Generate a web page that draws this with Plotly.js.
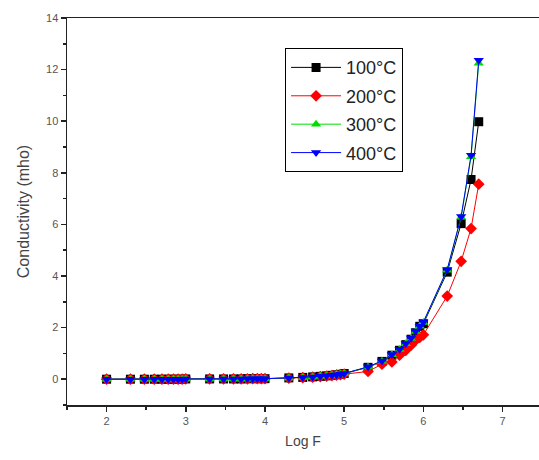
<!DOCTYPE html>
<html>
<head>
<meta charset="utf-8">
<script src="https://cdn.plot.ly/plotly-3.0.1.min.js"></script>
<style>html,body{margin:0;padding:0;background:#fff;}#chart{width:539px;height:460px;}</style>
</head>
<body>
<div id="chart"></div>
<script>
var logF = [2, 2.301, 2.477, 2.602, 2.699, 2.778, 2.845, 2.903, 2.954, 3,
            3.301, 3.477, 3.602, 3.699, 3.778, 3.845, 3.903, 3.954, 4,
            4.301, 4.477, 4.602, 4.699, 4.778, 4.845, 4.903, 4.954, 5,
            5.301, 5.477, 5.602, 5.699, 5.778, 5.845, 5.903, 5.954, 6,
            6.301, 6.477, 6.602, 6.699];

var c100 = [0, 0, 0, 0, 0, 0, 0, 0, 0, 0.01,
            0.01, 0.01, 0.01, 0.01, 0.02, 0.02, 0.02, 0.02, 0.02,
            0.05, 0.07, 0.09, 0.11, 0.13, 0.15, 0.17, 0.19, 0.22,
            0.46, 0.69, 0.93, 1.12, 1.34, 1.55, 1.8, 2.05, 2.15,
            4.15, 6.03, 7.74, 9.98];
var c200 = [0, 0, 0, 0, 0, 0, 0, 0, 0, 0.01,
            0.01, 0.01, 0.01, 0.01, 0.01, 0.02, 0.02, 0.02, 0.02,
            0.04, 0.06, 0.08, 0.1, 0.12, 0.14, 0.16, 0.18, 0.2,
            0.3, 0.58, 0.67, 0.93, 1.12, 1.32, 1.51, 1.62, 1.72,
            3.22, 4.57, 5.84, 7.56];
var c300 = [0, 0, 0, 0, 0, 0, 0, 0, 0, 0.01,
            0.01, 0.01, 0.01, 0.01, 0.02, 0.02, 0.02, 0.02, 0.02,
            0.05, 0.07, 0.09, 0.11, 0.13, 0.15, 0.17, 0.19, 0.22,
            0.47, 0.7, 0.95, 1.15, 1.37, 1.58, 1.85, 2.05, 2.2,
            4.22, 6.28, 8.62, 12.25];
var c400 = [0, 0, 0, 0, 0, 0, 0, 0, 0, 0.01,
            0.01, 0.01, 0.01, 0.01, 0.02, 0.02, 0.02, 0.02, 0.02,
            0.05, 0.07, 0.09, 0.11, 0.13, 0.15, 0.17, 0.19, 0.22,
            0.48, 0.71, 0.96, 1.16, 1.38, 1.6, 1.87, 2.05, 2.22,
            4.25, 6.31, 8.68, 12.36];

var seriesNames = ['100\u00b0C', '200\u00b0C', '300\u00b0C', '400\u00b0C'];
var seriesData = [c100, c200, c300, c400];
var colors = ['#000000', '#ff0000', '#00dd00', '#0000ff'];
var symbols = ['square', 'diamond', 'triangle-up', 'triangle-down'];

var traces = seriesData.map(function (ys, i) {
  return {
    x: logF, y: ys, name: seriesNames[i], type: 'scatter', mode: 'lines+markers',
    legendgroup: 'g' + i,
    line: {color: colors[i], width: 1},
    marker: {color: colors[i], symbol: symbols[i], size: 9, line: {width: 0}}
  };
});

var layout = {
  width: 539, height: 460,
  margin: {l: 67, r: 0, t: 18, b: 55},
  paper_bgcolor: '#fff', plot_bgcolor: '#fff',
  font: {family: 'Liberation Sans, Arial, sans-serif', color: '#444'},
  showlegend: true,
  legend: {
    x: 0.462, y: 0.922, xanchor: 'left', yanchor: 'top',
    bordercolor: '#000', borderwidth: 1, bgcolor: '#fff',
    font: {size: 18, color: '#222'}, tracegroupgap: 2, itemwidth: 50
  },
  xaxis: {
    range: [1.5, 7.46], showgrid: false, zeroline: false,
    showline: true, linecolor: '#222', linewidth: 1.5, mirror: true,
    ticks: 'outside', ticklen: 5, tickwidth: 1.5, tickcolor: '#222',
    dtick: 1, tick0: 0, tickfont: {size: 11, color: '#555'},
    minor: {dtick: 0.5, ticks: 'outside', ticklen: 3, tickcolor: '#222'},
    title: {text: 'Log F', font: {size: 14, color: '#444'}, standoff: 10}
  },
  yaxis: {
    range: [-1, 14], showgrid: false, zeroline: false,
    showline: true, linecolor: '#222', linewidth: 1.5,
    ticks: 'outside', ticklen: 5, tickwidth: 1.5, tickcolor: '#222',
    dtick: 2, tick0: 0, tickfont: {size: 11, color: '#555'},
    minor: {dtick: 1, ticks: 'outside', ticklen: 3, tickcolor: '#222'},
    title: {text: 'Conductivity (mho)', font: {size: 16, color: '#444'}, standoff: 12}
  }
};

Plotly.newPlot('chart', traces, layout, {displayModeBar: false, staticPlot: true});
</script>
</body>
</html>
